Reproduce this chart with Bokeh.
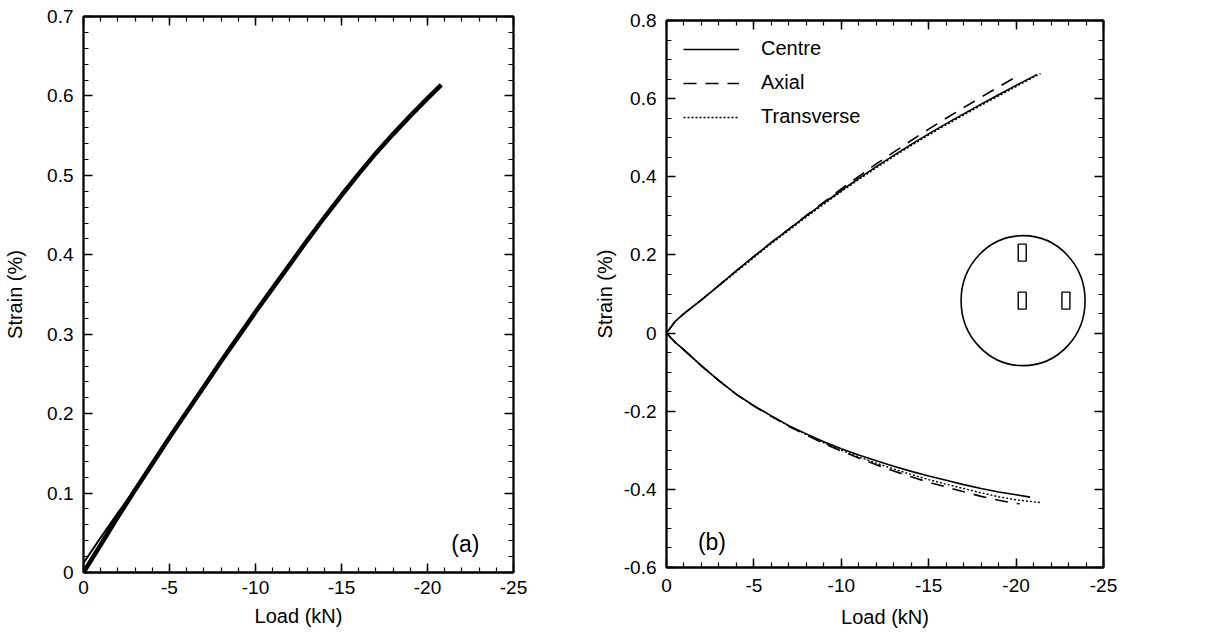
from bokeh.plotting import figure
from bokeh.models import (Range1d, SingleIntervalTicker, LinearAxis, CustomJSTickFormatter,
                          Legend, LegendItem, Label)
from bokeh.layouts import row, column
from bokeh.embed import file_html
from bokeh.resources import INLINE

FONT = "Liberation Sans"

# ---------------- panel (a) data ----------------
load_a = [0, -1, -2, -3, -4, -5, -6, -7, -8, -9, -10, -11, -12, -13, -14, -15,
          -16, -17, -18, -19, -20, -20.8]
strain_a = [0, 0.035, 0.070, 0.104, 0.137, 0.170, 0.202, 0.234, 0.266, 0.297, 0.328,
            0.358, 0.388, 0.418, 0.447, 0.475, 0.502, 0.528, 0.552, 0.575, 0.597, 0.614]
load_a2 = [0, -1, -2, -3]
strain_a2 = [0.012, 0.044, 0.075, 0.105]

# ---------------- panel (b) data ----------------
load_centre_top = [0, -0.5, -1, -2, -3, -4, -5, -6, -7, -8, -9, -10, -11, -12, -13, -14,
                   -15, -16, -17, -18, -19, -20, -21, -21.2]
centre_top = [0, 0.030, 0.050, 0.085, 0.122, 0.160, 0.196, 0.232, 0.266, 0.300, 0.333,
              0.365, 0.396, 0.426, 0.455, 0.483, 0.510, 0.536, 0.561, 0.586, 0.610,
              0.634, 0.657, 0.662]
load_axial_top = [0, -0.5, -1, -2, -3, -4, -5, -6, -7, -8, -9, -10, -11, -12, -13, -14,
                  -15, -16, -17, -18, -19, -20, -20.2]
axial_top = [0, 0.030, 0.050, 0.085, 0.122, 0.160, 0.196, 0.232, 0.266, 0.301, 0.335,
             0.369, 0.401, 0.433, 0.463, 0.493, 0.522, 0.550, 0.577, 0.604, 0.630,
             0.656, 0.661]
load_trans_top = [0, -0.5, -1, -2, -3, -4, -5, -6, -7, -8, -9, -10, -11, -12, -13, -14,
                  -15, -16, -17, -18, -19, -20, -21, -21.4]
trans_top = [0, 0.030, 0.050, 0.085, 0.121, 0.157, 0.193, 0.229, 0.263, 0.297, 0.330,
             0.362, 0.393, 0.423, 0.452, 0.480, 0.507, 0.533, 0.558, 0.583, 0.607,
             0.631, 0.655, 0.664]

load_centre_bot = [0, -0.5, -1, -2, -3, -4, -5, -6, -7, -8, -9, -10, -11, -12, -13, -14,
                   -15, -16, -17, -18, -19, -20, -20.8]
centre_bot = [0, -0.024, -0.043, -0.084, -0.122, -0.157, -0.186, -0.212, -0.237, -0.258,
              -0.278, -0.296, -0.312, -0.327, -0.341, -0.354, -0.366, -0.377, -0.388,
              -0.398, -0.407, -0.414, -0.420]
load_axial_bot = [0, -0.5, -1, -2, -3, -4, -5, -6, -7, -8, -9, -10, -11, -12, -13, -14,
                  -15, -16, -17, -18, -19, -20, -20.2]
axial_bot = [0, -0.024, -0.043, -0.084, -0.122, -0.157, -0.187, -0.213, -0.239, -0.261,
             -0.283, -0.302, -0.320, -0.337, -0.353, -0.368, -0.382, -0.394, -0.406,
             -0.418, -0.428, -0.436, -0.437]
load_trans_bot = [0, -0.5, -1, -2, -3, -4, -5, -6, -7, -8, -9, -10, -11, -12, -13, -14,
                  -15, -16, -17, -18, -19, -20, -21.4]
trans_bot = [0, -0.024, -0.043, -0.084, -0.122, -0.157, -0.186, -0.213, -0.238, -0.260,
             -0.281, -0.300, -0.317, -0.333, -0.348, -0.362, -0.375, -0.387, -0.398,
             -0.409, -0.419, -0.427, -0.434]

# schematic of gauge layout (inset)
disk_x = [-20.4]
disk_y = [0.083]
gauge_x = [-20.35, -20.35, -22.85]
gauge_y = [0.206, 0.083, 0.083]

legend_labels = ["Centre", "Axial", "Transverse"]
x_title = "Load (kN)"
y_title = "Strain (%)"

fmt_js = "return Number(tick.toFixed(2)).toString();"


def style_axis(ax, labels=True):
    ax.axis_line_width = 1.8
    ax.axis_line_color = "black"
    ax.major_tick_in = 9
    ax.major_tick_out = 0
    ax.minor_tick_in = 5
    ax.minor_tick_out = 0
    ax.major_tick_line_width = 1.5
    ax.minor_tick_line_width = 1.2
    ax.major_tick_line_color = "black"
    ax.minor_tick_line_color = "black"
    if labels:
        ax.formatter = CustomJSTickFormatter(code=fmt_js)
        ax.major_label_text_font = FONT
        ax.major_label_text_font_size = "19px"
        ax.major_label_text_color = "black"
        ax.axis_label_text_font = FONT
        ax.axis_label_text_font_size = "20px"
        ax.axis_label_text_font_style = "normal"
        ax.axis_label_text_color = "black"
    else:
        ax.formatter = CustomJSTickFormatter(code="return '';")
        ax.major_label_text_font_size = "0px"
        ax.major_label_standoff = 0
        ax.axis_label_standoff = 0


def make_fig(width, y_rng, y_int, y_minor, lb, rb, tb, bb, ylab_standoff, xlab_standoff,
             xtitle_standoff):
    p = figure(width=width, height=638, x_range=Range1d(0, -25.0001), y_range=y_rng,
               output_backend="svg", toolbar_location=None,
               min_border_left=lb, min_border_right=rb,
               min_border_top=tb, min_border_bottom=bb)
    p.background_fill_color = "white"
    p.border_fill_color = "white"
    p.outline_line_color = "black"
    p.outline_line_width = 1.8
    p.grid.visible = False
    p.xaxis.ticker = SingleIntervalTicker(interval=5, num_minor_ticks=5)
    p.yaxis.ticker = SingleIntervalTicker(interval=y_int, num_minor_ticks=y_minor)
    p.xaxis.axis_label = x_title
    p.yaxis.axis_label = y_title
    for ax in p.xaxis + p.yaxis:
        style_axis(ax)
    p.xaxis.major_label_standoff = xlab_standoff
    p.xaxis.axis_label_standoff = xtitle_standoff
    p.yaxis.major_label_standoff = 10
    p.yaxis.axis_label_standoff = ylab_standoff
    top = LinearAxis(ticker=SingleIntervalTicker(interval=5, num_minor_ticks=5))
    right = LinearAxis(ticker=SingleIntervalTicker(interval=y_int, num_minor_ticks=y_minor))
    style_axis(top, labels=False)
    style_axis(right, labels=False)
    p.add_layout(top, "above")
    p.add_layout(right, "right")
    return p


# ---------------- panel (a) ----------------
p1 = make_fig(590, Range1d(0, 0.7001), 0.1, 5, 83, 77, 16, 66, 18, 8, 8)
p1.line(load_a2, strain_a2, line_color="black", line_width=2)
p1.line(load_a, strain_a, line_color="black", line_width=4.5)
p1.add_layout(Label(x=-22.2, y=0.036, text="(a)", text_font=FONT, text_font_size="23px",
                    text_align="center", text_baseline="middle", text_color="black"))

# ---------------- panel (b) ----------------
p2 = make_fig(619, Range1d(-0.6001, 0.8001), 0.2, 4, 76, 106, 20, 71, 5, 11, 11)
r_c1 = p2.line(load_centre_top, centre_top, line_color="black", line_width=1.6)
p2.line(load_centre_bot, centre_bot, line_color="black", line_width=1.6)
r_a1 = p2.line(load_axial_top, axial_top, line_color="black", line_width=1.6,
               line_dash="13 9")
p2.line(load_axial_bot, axial_bot, line_color="black", line_width=1.6, line_dash="13 9")
r_t1 = p2.line(load_trans_top, trans_top, line_color="black", line_width=1.4,
               line_dash="2 2")
p2.line(load_trans_bot, trans_bot, line_color="black", line_width=1.4, line_dash="2 2")

p2.ellipse(x=disk_x, y=disk_y, width=124, height=130, width_units="screen",
           height_units="screen", fill_color=None, line_color="black", line_width=1.6)
p2.rect(x=gauge_x, y=gauge_y, width=8, height=17, width_units="screen",
        height_units="screen", fill_color=None, line_color="black", line_width=1.4)

p2.add_layout(Label(x=-2.6, y=-0.535, text="(b)", text_font=FONT, text_font_size="23px",
                    text_align="center", text_baseline="middle", text_color="black"))

legend = Legend(items=[LegendItem(label=legend_labels[0], renderers=[r_c1]),
                       LegendItem(label=legend_labels[1], renderers=[r_a1]),
                       LegendItem(label=legend_labels[2], renderers=[r_t1])],
                location="top_left")
legend.label_text_font = FONT
legend.label_text_font_size = "20px"
legend.label_text_color = "black"
legend.glyph_width = 56
legend.glyph_height = 22
legend.label_height = 22
legend.label_standoff = 22
legend.spacing = 11
legend.padding = 0
legend.margin = 17
legend.border_line_color = None
legend.background_fill_alpha = 0
p2.add_layout(legend)

layout = row(column(p1), column(p2))
open("out.html", "w").write(file_html(layout, INLINE))
